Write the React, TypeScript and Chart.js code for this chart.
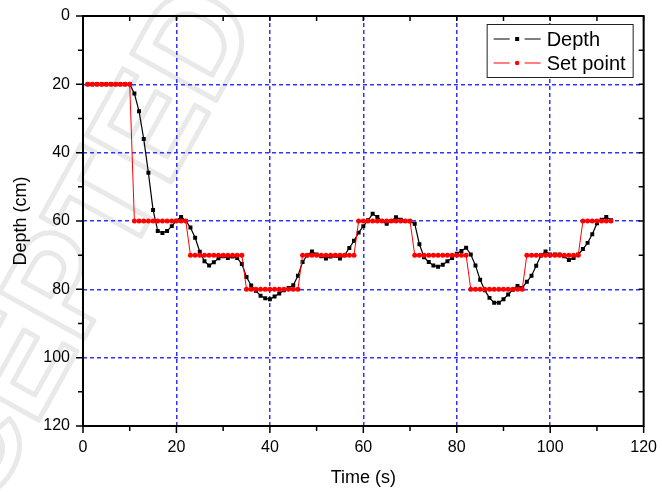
import React, { useEffect, useRef } from "react";
import { Chart, registerables } from "chart.js";

Chart.register(...registerables);

const FONT = "'Liberation Sans', Arial, Helvetica, sans-serif";

// Time (s)
const timeS = [
  1, 2, 3, 4, 5, 6, 7, 8, 9, 10,
  11, 12, 13, 14, 15, 16, 17, 18, 19, 20,
  21, 22, 23, 24, 25, 26, 27, 28, 29, 30,
  31, 32, 33, 34, 35, 36, 37, 38, 39, 40,
  41, 42, 43, 44, 45, 46, 47, 48, 49, 50,
  51, 52, 53, 54, 55, 56, 57, 58, 59, 60,
  61, 62, 63, 64, 65, 66, 67, 68, 69, 70,
  71, 72, 73, 74, 75, 76, 77, 78, 79, 80,
  81, 82, 83, 84, 85, 86, 87, 88, 89, 90,
  91, 92, 93, 94, 95, 96, 97, 98, 99, 100,
  101, 102, 103, 104, 105, 106, 107, 108, 109, 110,
  111, 112, 113,
];

// Measured depth (cm)
const depthCm = [
  20, 20, 20, 20, 20, 20, 20, 20, 20, 20,
  22.7, 27.9, 36.0, 45.9, 56.8, 62.9, 63.5, 62.9, 61.5, 59.9,
  58.8, 60.0, 61.9, 64.9, 69.0, 71.8, 73.0, 72.1, 70.9, 70.3,
  70.8, 70.4, 70.8, 72.6, 76.4, 78.9, 80.4, 81.9, 82.6, 82.9,
  82.1, 81.2, 80.3, 79.6, 78.8, 76.0, 72.0, 70.0, 68.9, 69.8,
  70.3, 71.0, 70.4, 70.2, 71.0, 70.0, 67.9, 65.8, 63.4, 61.5,
  59.8, 57.9, 58.8, 60.0, 60.8, 60.0, 58.9, 59.6, 60.0, 60.1,
  60.8, 66.8, 70.6, 72.0, 73.0, 73.4, 72.8, 71.8, 70.8, 69.6,
  68.8, 67.8, 69.8, 73.0, 77.2, 80.3, 82.5, 83.9, 83.9, 82.9,
  81.5, 80.1, 79.0, 79.6, 77.8, 76.0, 73.1, 70.1, 68.9, 69.8,
  69.8, 69.8, 70.3, 71.4, 70.8, 69.8, 68.2, 66.4, 63.9, 60.7,
  59.6, 58.8, 59.8,
];

// Set point (cm)
const setPointCm = [
  20, 20, 20, 20, 20, 20, 20, 20, 20, 20,
  60, 60, 60, 60, 60, 60, 60, 60, 60, 60, 60, 60,
  70, 70, 70, 70, 70, 70, 70, 70, 70, 70, 70, 70,
  80, 80, 80, 80, 80, 80, 80, 80, 80, 80, 80, 80,
  70, 70, 70, 70, 70, 70, 70, 70, 70, 70, 70, 70,
  60, 60, 60, 60, 60, 60, 60, 60, 60, 60, 60, 60,
  70, 70, 70, 70, 70, 70, 70, 70, 70, 70, 70, 70,
  80, 80, 80, 80, 80, 80, 80, 80, 80, 80, 80, 80,
  70, 70, 70, 70, 70, 70, 70, 70, 70, 70, 70, 70,
  60, 60, 60, 60, 60, 60, 60,
];

const seriesNames = ["Depth", "Set point"];
const xTitle = "Time (s)";
const yTitle = "Depth (cm)";
const watermarkText = "ACCEPTED";

const GRID_BLUE = "#3333ff";

const watermarkPlugin = {
  id: "watermark",
  beforeDraw(chart: any) {
    const ctx = chart.ctx;
    ctx.save();
    ctx.translate(40, 338);
    ctx.rotate((-61 * Math.PI) / 180);
    ctx.font = `bold 140px ${FONT}`;
    ctx.textAlign = "center";
    ctx.textBaseline = "middle";
    ctx.lineWidth = 5;
    ctx.lineJoin = "round";
    ctx.strokeStyle = "#e9e9e9";
    ctx.strokeText(watermarkText, 0, 0);
    ctx.restore();
  },
};

const framePlugin = {
  id: "frame",
  afterDraw(chart: any) {
    const { ctx, chartArea } = chart;
    const { left, right, top, bottom } = chartArea;
    const xs = chart.scales.x;
    const ys = chart.scales.y;
    ctx.save();
    ctx.strokeStyle = "#000";
    ctx.lineWidth = 1.5;
    ctx.beginPath();
    xs.ticks.forEach((t: any) => {
      const px = xs.getPixelForValue(t.value);
      const major = t.value % 20 === 0;
      ctx.moveTo(px, bottom);
      ctx.lineTo(px, bottom + (major ? 7 : 5));
      ctx.moveTo(px, top);
      ctx.lineTo(px, top + 5);
    });
    ys.ticks.forEach((t: any) => {
      const py = ys.getPixelForValue(t.value);
      const major = t.value % 20 === 0;
      ctx.moveTo(left, py);
      ctx.lineTo(left - (major ? 7 : 5), py);
      ctx.moveTo(right, py);
      ctx.lineTo(right - 5, py);
    });
    ctx.stroke();
    ctx.lineWidth = 2;
    ctx.strokeRect(left, top, right - left, bottom - top);
    ctx.restore();
  },
};

const legendPlugin = {
  id: "boxLegend",
  afterDraw(chart: any) {
    const { ctx, chartArea } = chart;
    const x0 = chartArea.right - 157;
    const y0 = chartArea.top + 8;
    const w = 146;
    const h = 53;
    ctx.save();
    ctx.fillStyle = "#fff";
    ctx.fillRect(x0, y0, w, h);
    ctx.strokeStyle = "#222";
    ctx.lineWidth = 1;
    ctx.strokeRect(x0 + 0.5, y0 + 0.5, w, h);
    chart.data.datasets.forEach((ds: any, i: number) => {
      const cy = y0 + 15 + i * 24;
      const lx = x0 + 7;
      ctx.strokeStyle = ds.borderColor;
      ctx.lineWidth = 1;
      ctx.beginPath();
      ctx.moveTo(lx, cy);
      ctx.lineTo(lx + 16, cy);
      ctx.moveTo(lx + 31, cy);
      ctx.lineTo(lx + 47, cy);
      ctx.stroke();
      ctx.fillStyle = ds.pointBackgroundColor;
      if (ds.pointStyle === "rect") {
        ctx.fillRect(lx + 21.5, cy - 2, 4, 4);
      } else {
        ctx.beginPath();
        ctx.arc(lx + 23.5, cy, 2.2, 0, Math.PI * 2);
        ctx.fill();
      }
      ctx.fillStyle = "#000";
      ctx.font = `20px ${FONT}`;
      ctx.textAlign = "left";
      ctx.textBaseline = "middle";
      ctx.fillText(ds.label, lx + 53, cy + 1);
    });
    ctx.restore();
  },
};

const gridWidth = (c: any) => {
  const v = c.tick ? c.tick.value : 0;
  return v % 20 === 0 && v > 0 && v < 120 ? 1.5 : 0;
};

export default function App() {
  const canvasRef = useRef<HTMLCanvasElement | null>(null);

  useEffect(() => {
    if (!canvasRef.current) return;
    const depthPoints = timeS.map((t, i) => ({ x: t, y: depthCm[i] }));
    const setPoints = timeS.map((t, i) => ({ x: t, y: setPointCm[i] }));

    const chart = new Chart(canvasRef.current, {
      type: "line",
      data: {
        datasets: [
          {
            label: seriesNames[0],
            data: depthPoints,
            borderColor: "#000",
            backgroundColor: "#000",
            pointBackgroundColor: "#000",
            borderWidth: 1.2,
            pointStyle: "rect",
            pointRadius: 2.8,
            pointBorderWidth: 0,
            tension: 0,
            order: 2,
          },
          {
            label: seriesNames[1],
            data: setPoints,
            borderColor: "#ff0000",
            backgroundColor: "#ff0000",
            pointBackgroundColor: "#ff0000",
            borderWidth: 1,
            pointStyle: "circle",
            pointRadius: 2.5,
            pointBorderWidth: 0,
            tension: 0,
            order: 1,
          },
        ],
      },
      options: {
        responsive: false,
        animation: false,
        maintainAspectRatio: false,
        layout: { padding: { top: 16, right: 15, left: 0, bottom: 0 } },
        plugins: {
          legend: { display: false },
          tooltip: { enabled: false },
        },
        scales: {
          x: {
            type: "linear",
            min: 0,
            max: 120,
            afterFit: (s: any) => {
              s.height = 66;
            },
            ticks: {
              stepSize: 10,
              autoSkip: false,
              maxRotation: 0,
              padding: 5,
              color: "#000",
              font: { family: FONT, size: 16 },
              callback: (v: any) => (Number(v) % 20 === 0 ? String(v) : ""),
            },
            grid: {
              color: GRID_BLUE,
              lineWidth: gridWidth,
              tickLength: 7,
              tickColor: "rgba(0,0,0,0)",
            },
            border: { display: false, dash: [4, 3] },
            title: {
              display: true,
              text: xTitle,
              color: "#000",
              font: { family: FONT, size: 18 },
              padding: { top: 0, bottom: 3 },
            },
          },
          y: {
            type: "linear",
            reverse: true,
            min: 0,
            max: 120,
            afterFit: (s: any) => {
              s.width = 83;
            },
            ticks: {
              stepSize: 10,
              autoSkip: false,
              padding: 6,
              color: "#000",
              font: { family: FONT, size: 16 },
              callback: (v: any) => (Number(v) % 20 === 0 ? String(v) : ""),
            },
            grid: {
              color: GRID_BLUE,
              lineWidth: gridWidth,
              tickLength: 7,
              tickColor: "rgba(0,0,0,0)",
            },
            border: { display: false, dash: [4, 3] },
            title: {
              display: true,
              text: yTitle,
              color: "#000",
              font: { family: FONT, size: 18 },
              padding: { top: 10, bottom: 0 },
            },
          },
        },
      },
      plugins: [watermarkPlugin, framePlugin, legendPlugin],
    } as any);

    return () => {
      chart.destroy();
    };
  }, []);

  return (
    <div style={{ position: "absolute", left: 0, top: 0, width: 662, height: 492, background: "#fff" }}>
      <canvas ref={canvasRef} width={662} height={492} style={{ display: "block" }} />
    </div>
  );
}
